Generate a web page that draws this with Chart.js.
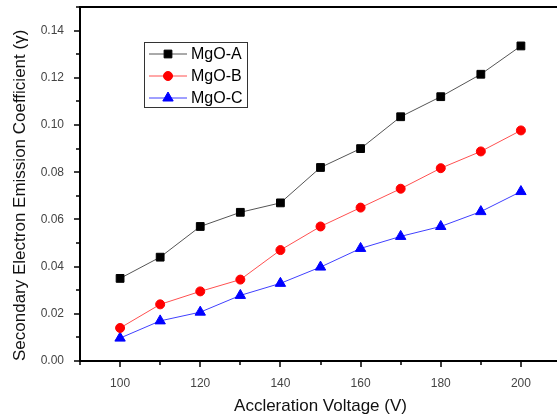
<!DOCTYPE html>
<html lang="en">
<head>
  <meta charset="UTF-8" />
  <title>Secondary Electron Emission Coefficient</title>
  <script src="https://cdn.jsdelivr.net/npm/chart.js"></script>
  <style>
    html, body { margin: 0; padding: 0; background: #fff; overflow: hidden; }
    #wrap { width: 568px; height: 419px; }
  </style>
</head>
<body>
  <div id="wrap"><canvas id="chart" width="568" height="419"></canvas></div>

  <script>
    // data
    const voltages = [100, 110, 120, 130, 140, 150, 160, 170, 180, 190, 200];
    const mgoA = [0.035, 0.044, 0.057, 0.063, 0.067, 0.082, 0.090, 0.1035, 0.112, 0.1215, 0.1335];
    const mgoB = [0.014, 0.024, 0.0295, 0.0345, 0.047, 0.057, 0.065, 0.073, 0.0817, 0.0888, 0.0977];
    const mgoC = [0.0097, 0.017, 0.0207, 0.0278, 0.0329, 0.0398, 0.0477, 0.0528, 0.057, 0.0633, 0.0718];

    const xTickLabels = [100, 120, 140, 160, 180, 200];
    const yTickLabels = [0.00, 0.02, 0.04, 0.06, 0.08, 0.10, 0.12, 0.14];

    const pts = vals => voltages.map((v, i) => ({ x: v, y: vals[i] }));
    const hasLabel = (list, v) => list.some(t => Math.abs(t - v) < 1e-6);

    // outward major/minor ticks, top frame line and the boxed legend
    const frame = {
      id: 'frame',
      afterDraw(chart) {
        const { ctx, chartArea: a, scales: { x, y } } = chart;
        ctx.save();
        ctx.strokeStyle = '#000';
        ctx.lineWidth = 1.5;
        ctx.beginPath();
        x.ticks.forEach(t => {
          const px = Math.round(x.getPixelForValue(t.value));
          const len = hasLabel(xTickLabels, t.value) ? 6 : 4;
          ctx.moveTo(px, a.bottom); ctx.lineTo(px, a.bottom + len);
        });
        y.ticks.forEach(t => {
          const py = Math.round(y.getPixelForValue(t.value));
          const len = hasLabel(yTickLabels, t.value) ? 6 : 4;
          ctx.moveTo(a.left, py); ctx.lineTo(a.left - len, py);
        });
        ctx.stroke();

        ctx.lineWidth = 2;
        ctx.beginPath();
        ctx.moveTo(a.left, a.top); ctx.lineTo(a.right, a.top);
        ctx.stroke();

        // legend
        ctx.lineWidth = 1;
        ctx.strokeStyle = '#333';
        ctx.strokeRect(144.5, 42.5, 103, 65);
        ctx.font = '16px "Liberation Sans", Arial, sans-serif';
        ctx.textBaseline = 'middle';
        ctx.fillStyle = '#000';
        chart.data.datasets.forEach((ds, i) => {
          const ly = 54 + i * 22;
          ctx.strokeStyle = ds.borderColor;
          ctx.beginPath(); ctx.moveTo(149, ly); ctx.lineTo(187, ly); ctx.stroke();
          ctx.fillStyle = ds.pointBackgroundColor;
          ctx.strokeStyle = ds.pointBackgroundColor;
          Chart.helpers.drawPoint(ctx, { pointStyle: ds.pointStyle, radius: ds.pointRadius, borderWidth: 1 }, 168, ly);
          ctx.fillStyle = '#000';
          ctx.fillText(ds.label, 191, ly + 1);
        });
        ctx.restore();
      }
    };

    new Chart(document.getElementById('chart'), {
      type: 'line',
      data: {
        datasets: [
          { label: 'MgO-A', data: pts(mgoA), borderColor: '#555', borderWidth: 1,
            pointStyle: 'rect', pointRadius: 5.5, pointBackgroundColor: '#000', pointBorderColor: '#000' },
          { label: 'MgO-B', data: pts(mgoB), borderColor: '#ff5050', borderWidth: 1,
            pointStyle: 'circle', pointRadius: 4.5, pointBackgroundColor: '#ff0000', pointBorderColor: '#ff0000' },
          { label: 'MgO-C', data: pts(mgoC), borderColor: '#4040ff', borderWidth: 1,
            pointStyle: 'triangle', pointRadius: 6, pointBackgroundColor: '#0000ff', pointBorderColor: '#0000ff' }
        ]
      },
      options: {
        responsive: false,
        animation: false,
        layout: { padding: { top: 7, left: 0, right: 0, bottom: 0 } },
        plugins: { legend: { display: false }, tooltip: { enabled: false } },
        scales: {
          x: {
            type: 'linear', min: 90, max: 210,
            afterFit: s => { s.height = 58; s.paddingLeft = 0; s.paddingRight = 0; },
            grid: { display: false },
            border: { display: true, color: '#000', width: 2 },
            ticks: {
              stepSize: 10, autoSkip: false, maxRotation: 0, padding: 7,
              color: '#444', font: { family: '"Liberation Sans", Arial', size: 12 },
              callback: v => hasLabel(xTickLabels, v) ? String(v) : ''
            },
            title: {
              display: true, text: 'Accleration Voltage (V)', color: '#111',
              font: { family: '"Liberation Sans", Arial', size: 17 }, padding: { top: 2, bottom: 2 }
            }
          },
          y: {
            min: 0, max: 0.15,
            afterFit: s => { s.width = 80; s.paddingTop = 0; s.paddingBottom = 0; },
            grid: { display: false },
            border: { display: true, color: '#000', width: 2 },
            ticks: {
              stepSize: 0.01, autoSkip: false, padding: 8,
              color: '#444', font: { family: '"Liberation Sans", Arial', size: 12 },
              callback: v => hasLabel(yTickLabels, v) ? v.toFixed(2) : ''
            },
            title: {
              display: true, align: 'start', text: 'Secondary Electron Emission Coefficient (\u03B3)', color: '#111',
              font: { family: '"Liberation Sans", Arial', size: 17 }, padding: { top: 10, bottom: 2 }
            }
          }
        }
      },
      plugins: [frame]
    });
  </script>
</body>
</html>
